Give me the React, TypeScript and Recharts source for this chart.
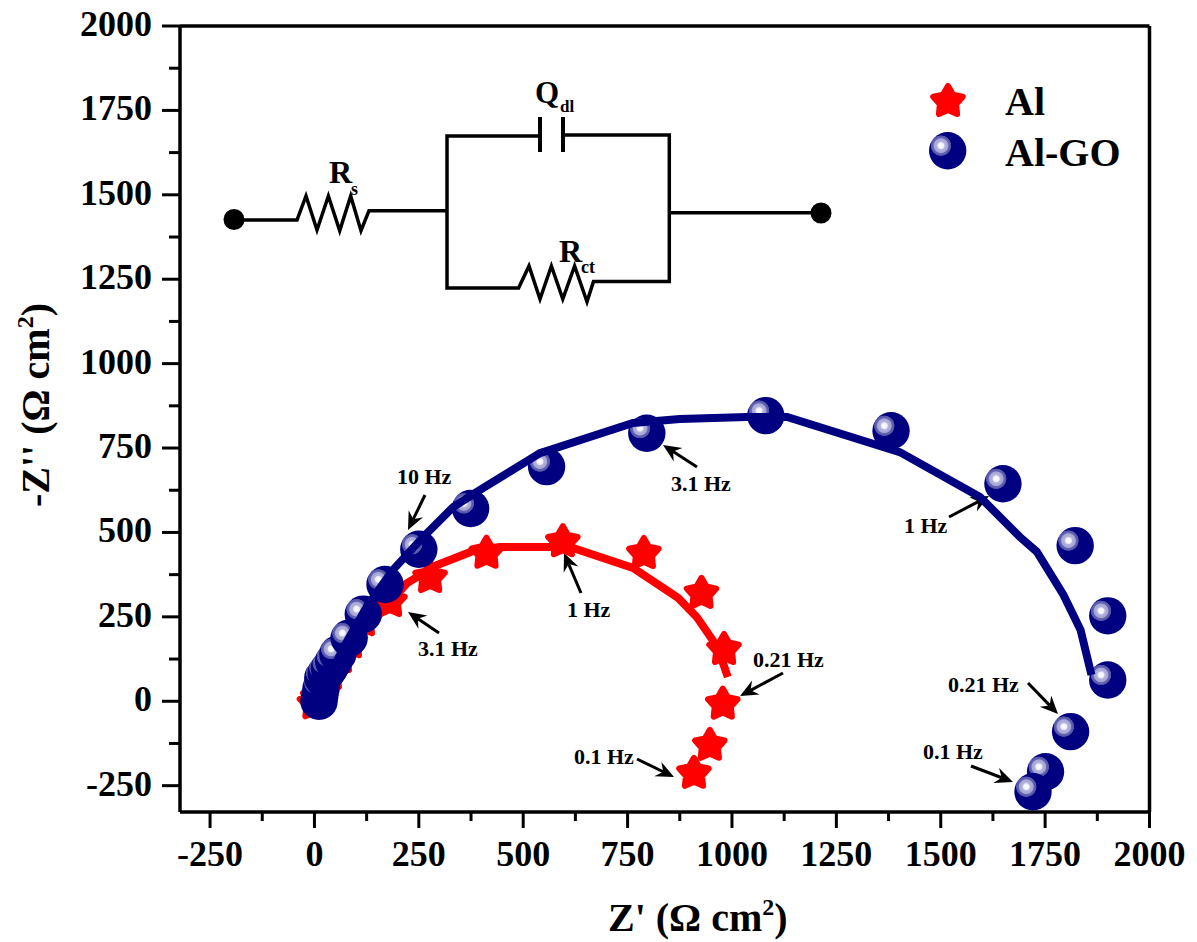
import React from 'react';
import { ScatterChart, Scatter, XAxis, YAxis, ReferenceLine, Legend, Customized } from 'recharts';

const alPoints = [
  { x: 0, y: 0 }, { x: 8, y: 18 }, { x: 20, y: 48 }, { x: 37, y: 87 }, { x: 61, y: 137 }, { x: 85, y: 181 },
  { x: 116, y: 246 }, { x: 181, y: 303 }, { x: 277, y: 374 }, { x: 412, y: 446 },
  { x: 595, y: 480 }, { x: 789, y: 445 }, { x: 927, y: 327 }, { x: 981, y: 161 }, { x: 978, y: -1 },
  { x: 947, y: -123 }, { x: 909, y: -206 },
];
const alFit = [
  { x: 8, y: 4 }, { x: 61, y: 107 }, { x: 121, y: 211 }, { x: 222, y: 350 }, { x: 293, y: 403 }, { x: 380, y: 445 },
  { x: 444, y: 457 }, { x: 571, y: 457 }, { x: 619, y: 454 }, { x: 763, y: 395 }, { x: 871, y: 306 }, { x: 916, y: 249 },
  { x: 954, y: 181 }, { x: 976, y: 122 }, { x: 990, y: 72 },
];
const goPoints = [
  { x: 11, y: 0 }, { x: 13, y: 18 }, { x: 16, y: 39 }, { x: 20, y: 69 }, { x: 28, y: 84 }, { x: 36, y: 98 }, { x: 46, y: 118 }, { x: 56, y: 140 },
  { x: 83, y: 187 }, { x: 117, y: 258 }, { x: 169, y: 346 }, { x: 250, y: 450 }, { x: 374, y: 571 }, { x: 556, y: 695 },
  { x: 796, y: 794 }, { x: 1081, y: 846 }, { x: 1381, y: 801 }, { x: 1649, y: 644 }, { x: 1822, y: 461 }, { x: 1900, y: 253 },
  { x: 1900, y: 63 }, { x: 1811, y: -90 }, { x: 1751, y: -209 }, { x: 1721, y: -268 },
];
const goFit = [
  { x: 13, y: 9 }, { x: 37, y: 78 }, { x: 73, y: 166 }, { x: 128, y: 285 }, { x: 188, y: 389 }, { x: 260, y: 486 },
  { x: 332, y: 575 }, { x: 389, y: 620 }, { x: 540, y: 735 }, { x: 763, y: 824 }, { x: 875, y: 836 }, { x: 1036, y: 842 },
  { x: 1132, y: 842 }, { x: 1402, y: 738 }, { x: 1594, y: 605 }, { x: 1690, y: 486 }, { x: 1730, y: 443 }, { x: 1794, y: 315 },
  { x: 1835, y: 211 }, { x: 1861, y: 78 },
];
const xTicks = [-250, -125, 0, 125, 250, 375, 500, 625, 750, 875, 1000, 1125, 1250, 1375, 1500, 1625, 1750, 1875, 2000];
const yTicks = [-250, -125, 0, 125, 250, 375, 500, 625, 750, 875, 1000, 1125, 1250, 1375, 1500, 1625, 1750, 1875, 2000];

const notes = [
  { text: '10 Hz', tx: 397, ty: 484, from: [425, 495], to: [408, 530] },
  { text: '3.1 Hz', tx: 418, ty: 656, from: [439, 633], to: [408, 612] },
  { text: '1 Hz', tx: 567, ty: 617, from: [581, 593], to: [564, 553] },
  { text: '0.21 Hz', tx: 753, ty: 667, from: [783, 673], to: [740, 696] },
  { text: '0.1 Hz', tx: 574, ty: 764, from: [637, 759], to: [674, 777] },
  { text: '3.1 Hz', tx: 671, ty: 491, from: [697, 467], to: [663, 445] },
  { text: '1 Hz', tx: 904, ty: 533, from: [949, 517], to: [989, 496] },
  { text: '0.21 Hz', tx: 948, ty: 692, from: [1028, 683], to: [1058, 714] },
  { text: '0.1 Hz', tx: 923, ty: 759, from: [971, 766], to: [1013, 782] },
];

const FONT = '"Liberation Serif", serif';
const NAVY = '#000080';
const RED = '#ff0000';

function starPath(cx: number, cy: number) {
  const pts: string[] = [];
  for (let i = 0; i < 10; i++) {
    const r = i % 2 === 0 ? 15.5 : 8.5;
    const a = -Math.PI / 2 + (i * Math.PI) / 5;
    pts.push(`${cx + r * Math.cos(a)},${cy + r * Math.sin(a)}`);
  }
  return pts.join(' ');
}
const Star = ({ cx, cy }: any) => (
  <polygon points={starPath(cx, cy + 2.5)} fill={RED} stroke={RED} strokeWidth={6} strokeLinejoin="round" />
);
const Sphere = ({ cx, cy }: any) => <circle cx={cx} cy={cy} r={18.7} fill="url(#sphereFill)" />;
const NoShape = () => null;

const XTick = ({ x, y, payload }: any) => {
  const major = payload.value % 250 === 0;
  return (
    <g>
      <line x1={x} x2={x} y1={y} y2={y + (major ? 16 : 9)} stroke="#000" strokeWidth={3} />
      {major && (
        <text x={x} y={y + 54} textAnchor="middle" fontFamily={FONT} fontWeight="bold" fontSize={36} fill="#000">
          {payload.value}
        </text>
      )}
    </g>
  );
};
const YTick = ({ x, y, payload }: any) => {
  const major = payload.value % 250 === 0;
  return (
    <g>
      <line x1={x - (major ? 18 : 11)} x2={x} y1={y} y2={y} stroke="#000" strokeWidth={3} />
      {major && (
        <text x={x - 28} y={y + 10} textAnchor="end" fontFamily={FONT} fontWeight="bold" fontSize={36} fill="#000">
          {payload.value}
        </text>
      )}
    </g>
  );
};

const XTitle = () => (
  <text x={608} y={931} fontFamily={FONT} fontWeight="bold" fontSize={40} fill="#000">
    Z' (Ω cm<tspan fontSize={24} dy={-16}>2</tspan><tspan dy={16}>)</tspan>
  </text>
);
const YTitle = () => (
  <text transform="translate(49,507) rotate(-90)" fontFamily={FONT} fontWeight="bold" fontSize={40} fill="#000">
    -Z'' (Ω cm<tspan fontSize={24} dy={-16}>2</tspan><tspan dy={16}>)</tspan>
  </text>
);

const wire = { fill: 'none', stroke: '#000', strokeWidth: 3.5, strokeLinejoin: 'miter' as const };
const Circuit = () => (
  <g>
    <circle cx={234} cy={219.5} r={10.5} fill="#000" />
    <circle cx={821} cy={213} r={10.5} fill="#000" />
    <polyline {...wire} points="244,220 297,220 306,196 317,230 328.4,196 339.7,230.7 350.7,196 361,230.7 369,210.7 446,210.7" />
    <polyline {...wire} points="540,136 447,136 447,288 518.6,288 529,266 540,299 551.4,266 562.8,299 574.6,266 587,301.7 593.5,281.5 669.3,281.5 669.3,135 563,135" />
    <line x1={669.3} y1={212.7} x2={821} y2={212.7} stroke="#000" strokeWidth={3.5} />
    <line x1={540} y1={117} x2={540} y2={152} stroke="#000" strokeWidth={4} />
    <line x1={563} y1={117} x2={563} y2={152} stroke="#000" strokeWidth={4} />
    <text x={535} y={103} fontFamily={FONT} fontWeight="bold" fontSize={31}>Q</text>
    <text x={560} y={112} fontFamily={FONT} fontWeight="bold" fontSize={17}>dl</text>
    <text x={329} y={183} fontFamily={FONT} fontWeight="bold" fontSize={32}>R</text>
    <text x={351} y={195} fontFamily={FONT} fontWeight="bold" fontSize={18}>s</text>
    <text x={559} y={262} fontFamily={FONT} fontWeight="bold" fontSize={32}>R</text>
    <text x={581} y={273} fontFamily={FONT} fontWeight="bold" fontSize={18}>ct</text>
  </g>
);

const Notes = () => (
  <g>
    {notes.map((n, i) => {
      const [x1, y1] = n.from;
      const [x2, y2] = n.to;
      const a = Math.atan2(y2 - y1, x2 - x1);
      const L = 18;
      const W = 8;
      const bx = x2 - L * Math.cos(a);
      const by = y2 - L * Math.sin(a);
      const nx = -Math.sin(a);
      const ny = Math.cos(a);
      const mx = x2 - 12 * Math.cos(a);
      const my = y2 - 12 * Math.sin(a);
      return (
        <g key={i}>
          <text x={n.tx} y={n.ty} fontFamily={FONT} fontWeight="bold" fontSize={22} fill="#000">{n.text}</text>
          <line x1={x1} y1={y1} x2={mx} y2={my} stroke="#000" strokeWidth={3} />
          <polygon
            points={`${x2},${y2} ${bx + W * nx},${by + W * ny} ${mx},${my} ${bx - W * nx},${by - W * ny}`}
            fill="#000"
          />
        </g>
      );
    })}
  </g>
);

const LegendBox = () => (
  <svg width={230} height={110} style={{ display: 'block' }}>
    <polygon points={starPath(38, 26.5)} fill={RED} stroke={RED} strokeWidth={6} strokeLinejoin="round" />
    <circle cx={37.7} cy={75.7} r={18.7} fill="url(#sphereFill)" />
    <text x={95} y={40} fontFamily={FONT} fontWeight="bold" fontSize={40} fill="#000">Al</text>
    <text x={95} y={91} fontFamily={FONT} fontWeight="bold" fontSize={40} fill="#000">Al-GO</text>
  </svg>
);

export default function App() {
  return (
    <div style={{ position: 'absolute', left: 0, top: 0, width: 1197, height: 942, background: '#fff' }}>
      <ScatterChart width={1197} height={942} margin={{ left: 0, top: 26, right: 47.5, bottom: 0 }}>
        <defs>
          <radialGradient id="sphereFill" cx="0.32" cy="0.365" r="0.28">
            <stop offset="0" stopColor="#ffffff" />
            <stop offset="0.28" stopColor="#eeeefa" />
            <stop offset="0.38" stopColor="#b4b4dc" />
            <stop offset="0.66" stopColor="#a4a4d4" />
            <stop offset="0.74" stopColor="#6464b4" />
            <stop offset="0.94" stopColor="#5454a8" />
            <stop offset="1" stopColor={NAVY} />
          </radialGradient>
        </defs>
        <XAxis
          type="number" dataKey="x" domain={[-322, 2000]} ticks={xTicks} interval={0} height={130}
          allowDataOverflow tick={<XTick />} tickLine={false} tickSize={0} tickMargin={0}
          axisLine={{ stroke: '#000', strokeWidth: 3.5 }}
          label={{ content: <XTitle /> }}
        />
        <YAxis
          type="number" dataKey="y" domain={[-328, 2000]} ticks={yTicks} interval={0} width={180}
          allowDataOverflow tick={<YTick />} tickLine={false} tickSize={0} tickMargin={0}
          axisLine={{ stroke: '#000', strokeWidth: 3.5 }}
          label={{ content: <YTitle /> }}
        />
        <ReferenceLine x={2000} stroke="#000" strokeWidth={3.5} />
        <ReferenceLine y={2000} stroke="#000" strokeWidth={3.5} />
        <Scatter name="Al" data={alPoints} fill={RED} shape={<Star />} isAnimationActive={false} />
        <Scatter name="Al fit" data={alFit} legendType="none" shape={<NoShape />} line={{ stroke: RED, strokeWidth: 8 }} isAnimationActive={false} />
        <Scatter name="Al-GO" data={goPoints} fill={NAVY} shape={<Sphere />} isAnimationActive={false} />
        <Scatter name="Al-GO fit" data={goFit} legendType="none" shape={<NoShape />} line={{ stroke: NAVY, strokeWidth: 8 }} isAnimationActive={false} />
        <Customized component={Circuit} />
        <Customized component={Notes} />
        <Legend
          layout="vertical" align="center" verticalAlign="middle" content={<LegendBox />}
          wrapperStyle={{ position: 'absolute', left: 910, top: 75, width: 230, height: 110 }}
        />
      </ScatterChart>
    </div>
  );
}
